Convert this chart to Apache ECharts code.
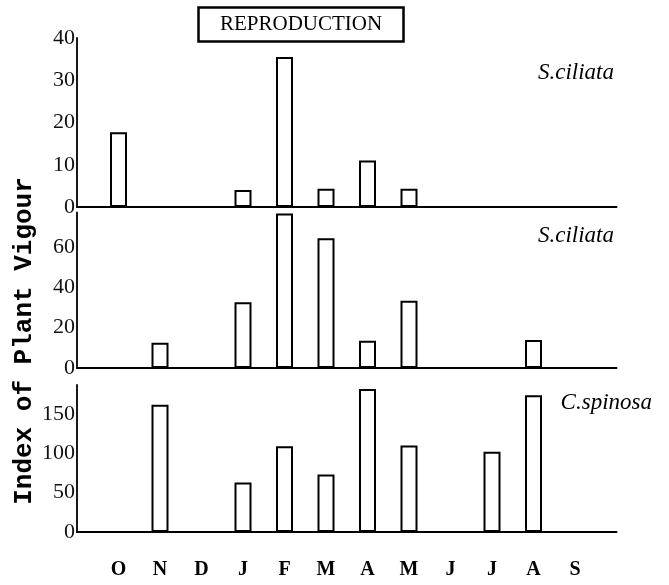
<!DOCTYPE html>
<html><head><meta charset="utf-8">
<script src="https://cdn.jsdelivr.net/npm/echarts@6/dist/echarts.min.js"></script>
<style>html,body{margin:0;padding:0;background:#fff}#c{width:669px;height:585px}</style>
</head><body><div id="c"></div>
<script>
const months = ['O','N','D','J','F','M','A','M','J','J','A','S'];
const topValues = [17.7, null, null, 4.0, 35.5, 4.3, 11.0, 4.3, null, null, null, null];
const midValues = [null, 12.5, null, 32.5, 76.5, 64.2, 13.5, 33.3, null, null, 13.9, null];
const botValues = [null, 162, null, 63, 109, 73, 182, 110, null, 102, 174, null];
const topTicks = [0, 10, 20, 30, 40];
const midTicks = [0, 20, 40, 60];
const botTicks = [0, 50, 100, 150];
const panelNames = ['S.ciliata', 'S.ciliata', 'C.spinosa'];
const titleText = 'REPRODUCTION';
const yTitle = 'Index of Plant Vigour';

const SERIF = 'Liberation Serif';
const cats = [''].concat(months, ['']);
const pad = v => [null].concat(v, [null]);

const panels = [
  {vals: topValues, ticks: topTicks, max: 40, interval: 10, top: 38, height: 169},
  {vals: midValues, ticks: midTicks, max: 77, interval: 20, top: 212.5, height: 155.5},
  {vals: botValues, ticks: botTicks, max: 187, interval: 50, top: 385, height: 147}
];

const chart = echarts.init(document.getElementById('c'), null, {renderer: 'canvas'});
const grids = [], xAxes = [], yAxes = [], series = [];
panels.forEach((p, i) => {
  grids.push({left: 77, right: 52.5, top: p.top, height: p.height, containLabel: false});
  xAxes.push({
    type: 'category', gridIndex: i, data: cats, boundaryGap: false,
    axisLine: {lineStyle: {color: '#000', width: 2}},
    axisTick: {show: false},
    axisLabel: {show: i === 2, interval: 0, margin: 28, color: '#000',
      fontFamily: SERIF, fontSize: 20, fontWeight: 'bold'},
    splitLine: {show: false}
  });
  yAxes.push({
    type: 'value', gridIndex: i, min: 0, max: p.max, interval: p.interval,
    axisLine: {show: true, lineStyle: {color: '#000', width: 1.8}},
    axisTick: {show: false},
    splitLine: {show: false},
    axisLabel: {margin: 2, color: '#111', fontFamily: SERIF, fontSize: 22,
      showMaxLabel: i === 0,
      formatter: v => p.ticks.indexOf(v) >= 0 ? String(v) : ''}
  });
  series.push({
    type: 'bar', xAxisIndex: i, yAxisIndex: i, data: pad(p.vals), barWidth: 17,
    itemStyle: {color: '#fff', borderColor: '#000', borderWidth: 2},
    silent: true, animation: false
  });
});

chart.setOption({
  backgroundColor: '#fff',
  animation: false,
  title: [
    {text: titleText, left: 198, top: 7, padding: [7, 22], borderColor: '#000', borderWidth: 2.5,
      textStyle: {fontFamily: SERIF, fontSize: 21, fontWeight: 'normal', color: '#000'}},
    {text: panelNames[0], right: 55, top: 61, padding: 0,
      textStyle: {fontFamily: SERIF, fontSize: 23, fontStyle: 'italic', fontWeight: 'normal', color: '#000'}},
    {text: panelNames[1], right: 55, top: 224, padding: 0,
      textStyle: {fontFamily: SERIF, fontSize: 23, fontStyle: 'italic', fontWeight: 'normal', color: '#000'}},
    {text: panelNames[2], right: 17, top: 391, padding: 0,
      textStyle: {fontFamily: SERIF, fontSize: 23, fontStyle: 'italic', fontWeight: 'normal', color: '#000'}}
  ],
  grid: grids, xAxis: xAxes, yAxis: yAxes, series: series,
  graphic: [{
    type: 'text', x: 24, y: 341, rotation: Math.PI / 2,
    style: {text: yTitle, fontFamily: 'Liberation Mono', fontSize: 26, fontWeight: 'bold',
      fill: '#000', textAlign: 'center', textVerticalAlign: 'middle'}
  }]
});
</script>
</body></html>
